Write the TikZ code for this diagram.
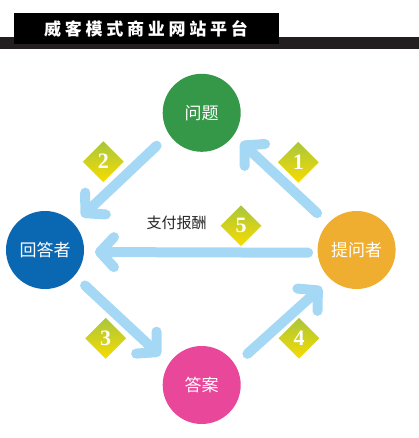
\documentclass[tikz,border=0pt]{standalone}
\usepackage{fontspec}
\usetikzlibrary{arrows.meta,shapes.geometric}
\newfontfamily\cjk{Noto Sans CJK SC}
\newfontfamily\titlefont[LetterSpace=22]{Noto Sans CJK SC}
\newfontfamily\numfont{Liberation Serif}
\definecolor{cgreen}{HTML}{349848}
\definecolor{cblue}{HTML}{0A67B2}
\definecolor{cpink}{HTML}{E9489A}
\definecolor{corange}{HTML}{F0AE31}
\definecolor{carrow}{HTML}{A5D8F4}
\definecolor{dtop}{HTML}{A9C63C}
\definecolor{dbot}{HTML}{F7DC00}
\definecolor{strip}{HTML}{231F20}
\tikzset{
  actor/.style={circle, fill=#1, minimum size=78pt, inner sep=0pt, outer sep=0pt,
    text=white, font=\cjk\fontsize{17}{17}\selectfont},
  flow/.style={line width=10pt, carrow, line cap=round,
    -{Straight Barb[length=14pt, width=30pt, round]}},
  badge/.style={diamond, aspect=1, minimum width=41pt, minimum height=41pt, inner sep=0pt,
    top color=dtop, bottom color=dbot, draw=none, text=white,
    font=\numfont\bfseries\fontsize{22}{22}\selectfont}
}
\begin{document}
\begin{tikzpicture}[x=1pt,y=-1pt]
\useasboundingbox (0,0) rectangle (419,438);
% header
\fill[strip] (0,37) rectangle (419,49);
\node[fill=black, minimum width=265pt, minimum height=31pt, inner sep=0pt, anchor=north west] (hdr) at (14,13) {};
\node[text=white, font=\titlefont\bfseries\fontsize{17}{17}\selectfont] (title) at (146,28.5) {威客模式商业网站平台};
% actors
\node[actor=cgreen] (q) at (201.7,112.8) {问题};
\node[actor=cblue] (b) at (45,250) {回答者};
\node[actor=cpink] (a) at (201.7,385) {答案};
\node[actor=corange] (p) at (356.6,250) {提问者};
% flows
\draw[flow, shorten <=15pt, shorten >=10pt] (p.137.6) -- (q.-35);
\draw[flow, shorten <=17pt, shorten >=10.6pt] (q.213) -- (b.42);
\draw[flow, shorten <=14.5pt, shorten >=12pt] (b.-41) -- (a.147);
\draw[flow, shorten <=16.5pt, shorten >=12pt] (a.31) -- (p.228);
\draw[flow, shorten <=9.6pt, shorten >=11pt] (p.184) -- (b.-3.5);
% badges
\node[badge] (n1) at (298.3,162.3) {1};
\node[badge] (n2) at (103.3,161.7) {2};
\node[badge] (n3) at (105.7,338.3) {3};
\node[badge] (n4) at (299,338.3) {4};
\node[badge] (n5) at (241,225.7) {5};
\node[font=\cjk\fontsize{15}{15}\selectfont, text=black!85, anchor=west, inner sep=0pt] (pay) at (146.5,222.7) {支付报酬};
\end{tikzpicture}
\end{document}
